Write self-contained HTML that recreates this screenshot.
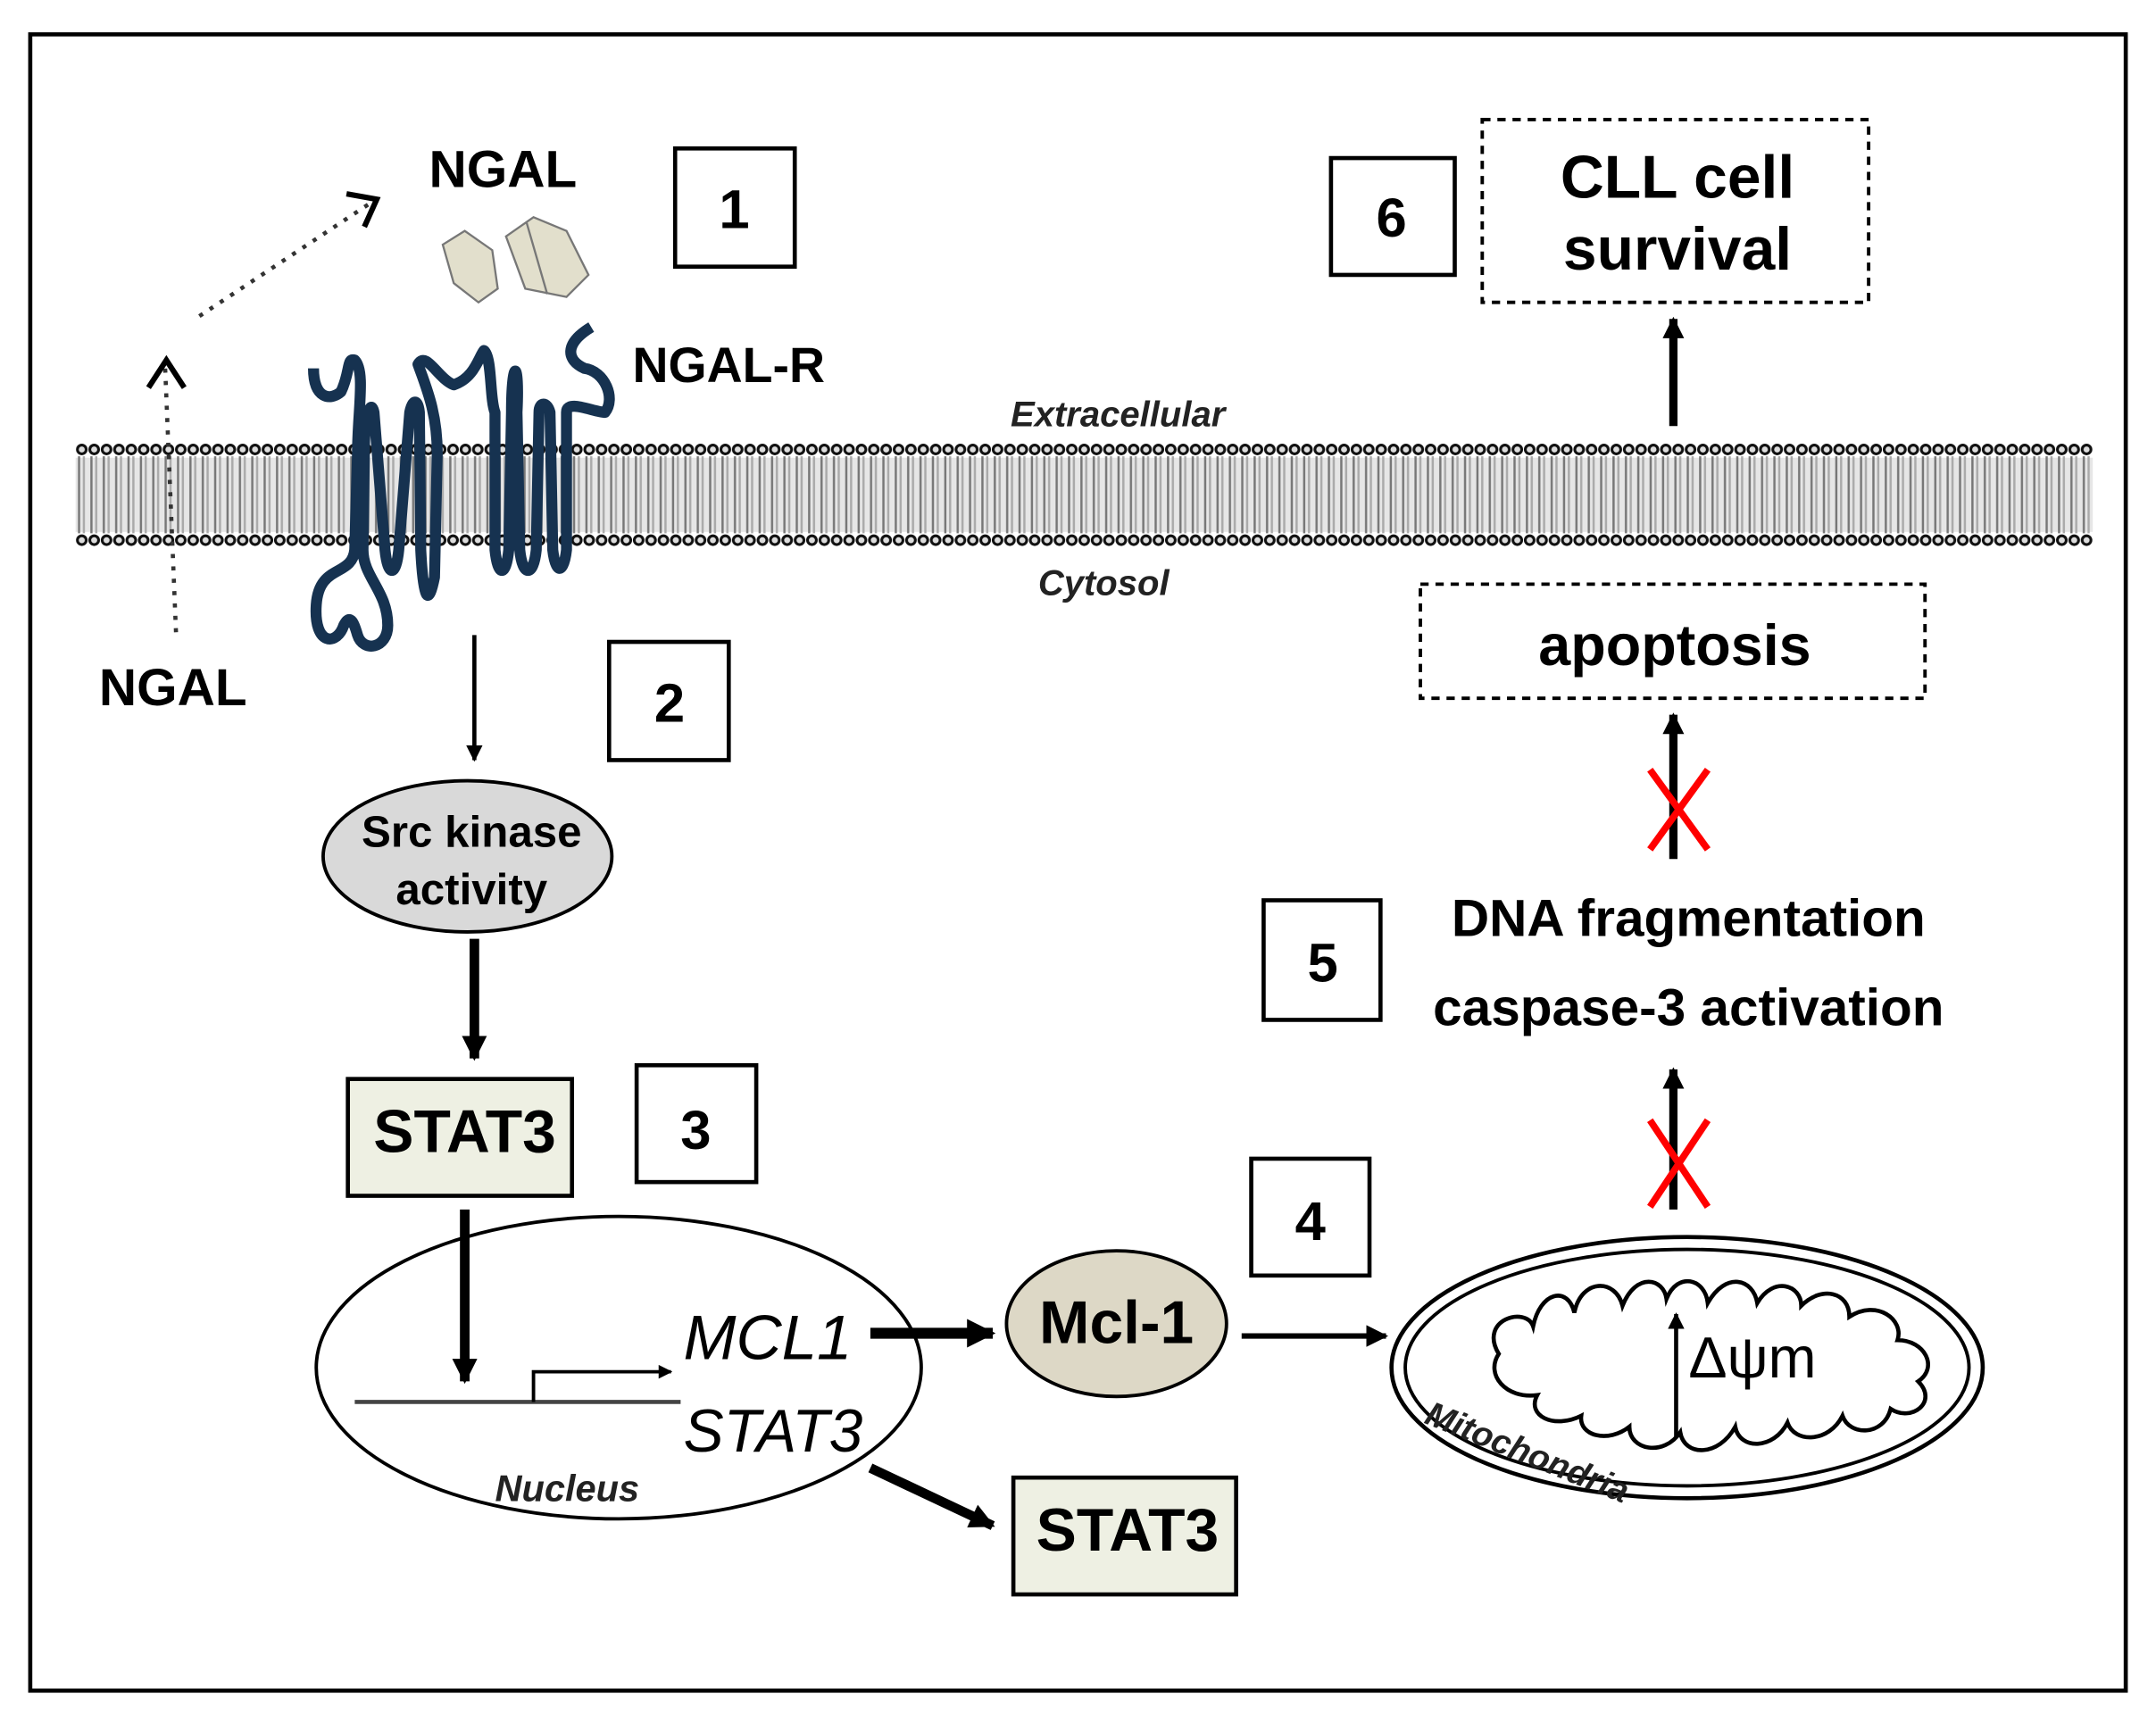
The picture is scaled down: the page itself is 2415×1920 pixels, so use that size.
<!DOCTYPE html>
<html><head><style>html,body{margin:0;padding:0;background:#fff}svg{display:block}text{font-family:"Liberation Sans",sans-serif}</style></head>
<body>
<svg width="2415" height="1920" viewBox="0 0 1568 1247" preserveAspectRatio="none" xmlns="http://www.w3.org/2000/svg">
<defs>
<marker id="ah" viewBox="0 0 10 10" refX="9" refY="5" markerWidth="4" markerHeight="4" orient="auto-start-reverse"><path d="M0,0L10,5L0,10z" fill="#000"/></marker>
<marker id="ah2" viewBox="0 0 10 10" refX="9" refY="5" markerWidth="2.6" markerHeight="2.6" orient="auto"><path d="M0,0L10,5L0,10z" fill="#000"/></marker>
<pattern id="lip" x="55" y="0" width="9" height="1247" patternUnits="userSpaceOnUse">
<rect x="0" y="333" width="9" height="54" fill="#e6e6e6"/>
<line x1="2.5" y1="332" x2="2.5" y2="388" stroke="#777" stroke-width="1.6"/>
<line x1="6" y1="332" x2="6" y2="388" stroke="#aaa" stroke-width="1.6"/>
<circle cx="4.5" cy="327" r="3.2" fill="#ddd" stroke="#111" stroke-width="2"/>
<circle cx="4.5" cy="393" r="3.2" fill="#ddd" stroke="#111" stroke-width="2"/>
</pattern>
</defs>
<rect x="22" y="25" width="1524" height="1205" fill="none" stroke="#000" stroke-width="3"/>
<rect x="55" y="320" width="1467" height="80" fill="url(#lip)"/>
<text x="735" y="310" font-size="26" font-style="italic" font-weight="bold" fill="#222">Extracellular</text>
<text x="755" y="433" font-size="26" font-style="italic" font-weight="bold" fill="#222">Cytosol</text>
<!-- NGAL top -->
<text x="312" y="136" font-size="38" font-weight="bold">NGAL</text>
<path d="M128,460 L120,265" stroke="#333" stroke-width="3" stroke-dasharray="3,6" fill="none"/>
<path d="M108,282 L121,262 L134,282" stroke="#000" stroke-width="4" fill="none"/>
<path d="M145,230 L272,146" stroke="#333" stroke-width="3" stroke-dasharray="3,6" fill="none"/>
<path d="M252,141 L274,145 L265,165" stroke="#000" stroke-width="4" fill="none"/>
<polygon points="322,178 338,168 358,182 362,210 348,220 330,206" fill="#e2dfcc" stroke="#777" stroke-width="1.5"/>
<polygon points="368,172 388,158 412,168 428,200 412,216 382,210" fill="#e2dfcc" stroke="#777" stroke-width="1.5"/>
<line x1="383" y1="162" x2="398" y2="214" stroke="#777" stroke-width="1.5"/>
<text x="72" y="513" font-size="38" font-weight="bold">NGAL</text>
<text x="460" y="278" font-size="36" font-weight="bold">NGAL-R</text>
<!-- receptor -->
<path d="M228,268 C228,290 240,292 248,285 C255,270 252,260 258,262 C266,270 260,300 260,330 L258,400 C256,420 232,410 230,440 C228,470 245,470 250,455 C255,445 258,455 260,462 C264,475 282,472 282,455 C282,430 264,420 264,400 L265,330 C265,300 270,290 272,300 L280,400 C282,420 288,420 290,400 L298,300 C300,290 304,290 305,300 L306,400 C308,440 312,440 316,420 L318,330 C318,300 310,282 304,265 C310,255 318,275 330,280 C345,275 348,260 352,255 C358,260 356,290 360,300 L360,400 C362,420 368,420 370,400 L372,300 C372,260 378,260 376,300 L378,400 C380,420 388,420 390,400 L392,300 C392,292 398,292 400,300 L402,400 C404,418 410,418 412,400 L412,300 C412,290 432,300 440,300 C448,290 440,270 425,268 C412,262 410,250 430,238" fill="none" stroke="#163250" stroke-width="8" stroke-linejoin="round"/>
<!-- boxes -->
<g fill="#fff" stroke="#000" stroke-width="3">
<rect x="491" y="108" width="87" height="86"/>
<rect x="968" y="115" width="90" height="85"/>
<rect x="443" y="467" width="87" height="86"/>
<rect x="463" y="775" width="87" height="85"/>
<rect x="910" y="843" width="86" height="85"/>
<rect x="919" y="655" width="85" height="87"/>
</g>
<g font-size="40" font-weight="bold" text-anchor="middle">
<text x="534" y="166">1</text><text x="1012" y="172">6</text><text x="487" y="525">2</text>
<text x="506" y="836">3</text><text x="953" y="902">4</text><text x="962" y="714">5</text>
</g>
<rect x="1078" y="87" width="281" height="133" fill="none" stroke="#000" stroke-width="2.5" stroke-dasharray="6,5"/>
<text x="1220" y="144" font-size="44" font-weight="bold" text-anchor="middle">CLL cell</text>
<text x="1220" y="196" font-size="44" font-weight="bold" text-anchor="middle">survival</text>
<line x1="1217" y1="310" x2="1217" y2="232" stroke="#000" stroke-width="6" marker-end="url(#ah2)"/>
<!-- left pathway -->
<line x1="345" y1="462" x2="345" y2="553" stroke="#000" stroke-width="3" marker-end="url(#ah)"/>
<ellipse cx="340" cy="623" rx="105" ry="55" fill="#d9d9d9" stroke="#000" stroke-width="2.5"/>
<text x="343" y="616" font-size="32" font-weight="bold" text-anchor="middle">Src kinase</text>
<text x="343" y="658" font-size="32" font-weight="bold" text-anchor="middle">activity</text>
<line x1="345" y1="683" x2="345" y2="770" stroke="#000" stroke-width="7" marker-end="url(#ah2)"/>
<rect x="253" y="785" width="163" height="85" fill="#eef0e3" stroke="#000" stroke-width="3"/>
<text x="338" y="838" font-size="44" font-weight="bold" text-anchor="middle">STAT3</text>
<ellipse cx="450" cy="995" rx="220" ry="110" fill="#fff" stroke="#000" stroke-width="2.5"/>
<line x1="338" y1="880" x2="338" y2="1005" stroke="#000" stroke-width="7" marker-end="url(#ah2)"/>
<line x1="258" y1="1020" x2="495" y2="1020" stroke="#444" stroke-width="3"/>
<path d="M388,1020 V998 H488" fill="none" stroke="#000" stroke-width="2.5" marker-end="url(#ah)"/>
<text x="497" y="989" font-size="46" font-style="italic">MCL1</text>
<text x="497" y="1056" font-size="44" font-style="italic">STAT3</text>
<text x="360" y="1092" font-size="27" font-style="italic" font-weight="bold" fill="#222">Nucleus</text>
<line x1="633" y1="970" x2="722" y2="970" stroke="#000" stroke-width="8" marker-end="url(#ah2)"/>
<ellipse cx="812" cy="963" rx="80" ry="53" fill="#ddd8c6" stroke="#000" stroke-width="2.5"/>
<text x="812" y="977" font-size="44" font-weight="bold" text-anchor="middle">Mcl-1</text>
<line x1="903" y1="972" x2="1008" y2="972" stroke="#000" stroke-width="4" marker-end="url(#ah)"/>
<line x1="633" y1="1068" x2="722" y2="1110" stroke="#000" stroke-width="7" marker-end="url(#ah2)"/>
<rect x="737" y="1075" width="162" height="85" fill="#eef0e3" stroke="#000" stroke-width="3"/>
<text x="820" y="1128" font-size="44" font-weight="bold" text-anchor="middle">STAT3</text>
<!-- mitochondria -->
<ellipse cx="1227" cy="995" rx="215" ry="95" fill="#fff" stroke="#000" stroke-width="3"/>
<ellipse cx="1227" cy="995" rx="205" ry="86" fill="none" stroke="#000" stroke-width="2.5"/>
<path d="M1090,985 C1075,960 1110,950 1115,965 C1120,940 1140,935 1145,955 C1150,930 1175,930 1180,950 C1190,925 1210,930 1212,945 C1220,925 1240,930 1242,948 C1255,925 1275,930 1278,948 C1290,928 1310,935 1310,950 C1325,935 1345,940 1345,958 C1365,945 1385,960 1380,975 C1400,975 1410,995 1395,1005 C1410,1020 1390,1035 1375,1025 C1370,1045 1345,1045 1340,1030 C1330,1050 1305,1050 1300,1035 C1290,1055 1265,1055 1262,1038 C1250,1060 1225,1060 1222,1042 C1210,1060 1185,1055 1185,1038 C1170,1050 1148,1045 1150,1030 C1130,1040 1110,1030 1118,1015 C1095,1018 1080,1000 1090,985 Z" fill="none" stroke="#000" stroke-width="3"/>
<line x1="1219" y1="1045" x2="1219" y2="956" stroke="#000" stroke-width="3" marker-end="url(#ah)"/>
<text x="1228" y="1002" font-size="42">Δψm</text>
<text x="1035" y="1035" font-size="25" font-style="italic" font-weight="bold" fill="#222" transform="rotate(22 1035 1035)">Mitochondria</text>
<!-- right arrows -->
<line x1="1217" y1="880" x2="1217" y2="778" stroke="#000" stroke-width="6" marker-end="url(#ah2)"/>
<path d="M1200,815 L1242,878 M1242,815 L1200,878" stroke="#f00" stroke-width="5"/>
<text x="1228" y="681" font-size="38" font-weight="bold" text-anchor="middle">DNA fragmentation</text>
<text x="1228" y="746" font-size="38" font-weight="bold" text-anchor="middle">caspase-3 activation</text>
<line x1="1217" y1="625" x2="1217" y2="520" stroke="#000" stroke-width="6" marker-end="url(#ah2)"/>
<path d="M1200,560 L1242,618 M1242,560 L1200,618" stroke="#f00" stroke-width="5"/>
<rect x="1033" y="425" width="367" height="83" fill="none" stroke="#000" stroke-width="2.5" stroke-dasharray="6,5"/>
<text x="1218" y="484" font-size="42" font-weight="bold" text-anchor="middle">apoptosis</text>
</svg>
</body></html>
